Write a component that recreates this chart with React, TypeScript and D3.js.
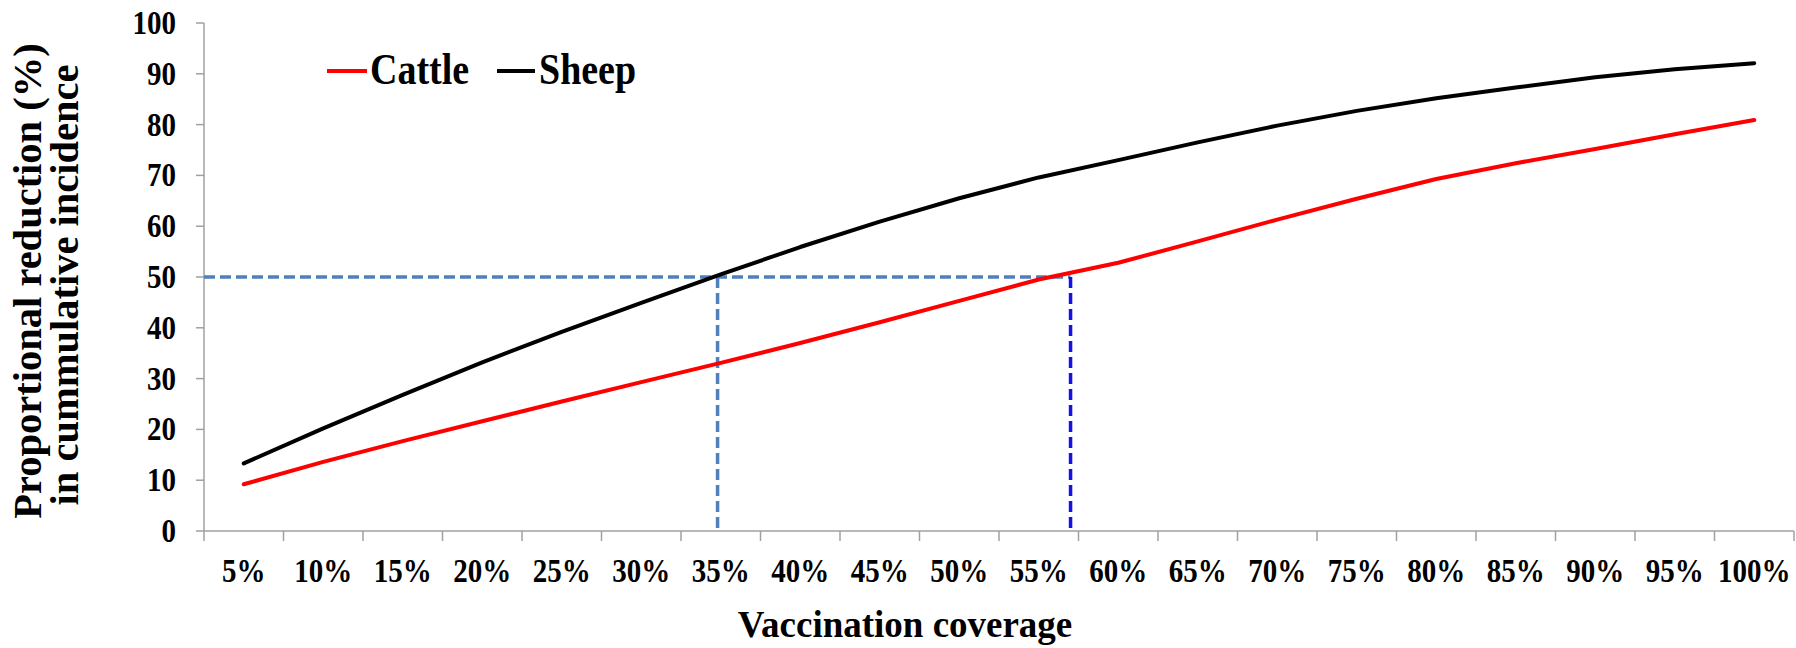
import React, { useEffect } from "react";
import * as d3 from "d3";

const coverage = [5, 10, 15, 20, 25, 30, 35, 40, 45, 50, 55, 60, 65, 70, 75, 80, 85, 90, 95, 100];
const coverageLabels = ["5%", "10%", "15%", "20%", "25%", "30%", "35%", "40%", "45%", "50%", "55%", "60%", "65%", "70%", "75%", "80%", "85%", "90%", "95%", "100%"];
const sheep = [13.3, 20.2, 26.8, 33.2, 39.2, 44.9, 50.5, 55.9, 60.9, 65.5, 69.6, 73.0, 76.5, 79.8, 82.7, 85.2, 87.3, 89.3, 90.9, 92.1];
const cattle = [9.2, 13.6, 17.7, 21.6, 25.5, 29.3, 33.1, 37.0, 41.1, 45.3, 49.5, 52.8, 57.0, 61.3, 65.4, 69.3, 72.4, 75.2, 78.1, 80.9];
const yTicks = [0, 10, 20, 30, 40, 50, 60, 70, 80, 90, 100];
const targetReduction = 50;
const sheepCoverageAtTarget = 34.8;
const cattleCoverageAtTarget = 57.0;

const W = 1796;
const H = 648;
const FONT = "'Liberation Serif', 'Times New Roman', serif";
const SY = 1.15;

function HText({ x, y, anchor, size, sy, children }: { x: number; y: number; anchor?: string; size: number; sy?: number; children: React.ReactNode }) {
  return (
    <g transform={`translate(${x},${y}) scale(1,${sy ?? SY})`}>
      <text x={0} y={0} textAnchor={anchor || "start"} fontSize={size} fontWeight="bold" fill="#000">
        {children}
      </text>
    </g>
  );
}

export default function App() {
  useEffect(() => {
    document.body.style.margin = "0";
  }, []);

  const band = d3.scaleBand<string>().domain(coverageLabels).range([204, 1794]).paddingInner(0).paddingOuter(0);
  const bw = band.bandwidth();
  const cx = (i: number) => (band(coverageLabels[i]) as number) + bw / 2;
  const xLin = d3.scaleLinear().domain([coverage[0], coverage[coverage.length - 1]]).range([cx(0), cx(coverage.length - 1)]);
  const y = d3.scaleLinear().domain([0, 100]).range([531, 23]);

  const line = d3
    .line<number>()
    .x((_, i) => xLin(coverage[i]))
    .y((d) => y(d));

  const x0 = band.range()[0];
  const x1 = band.range()[1];
  const yBase = y(0);
  const boundaries = coverageLabels.map((c) => band(c) as number).concat([x1]);

  const sx = xLin(sheepCoverageAtTarget);
  const cxT = xLin(cattleCoverageAtTarget);
  const yT = y(targetReduction);

  return (
    <svg width={W} height={H} style={{ display: "block", position: "absolute", left: 0, top: 0, background: "#fff" }} fontFamily={FONT}>
      <rect x={0} y={0} width={W} height={H} fill="#fff" />
      {/* axes */}
      <line x1={x0} x2={x0} y1={y(100)} y2={yBase} stroke="#a0a0a0" strokeWidth={1.5} />
      <line x1={x0} x2={x1} y1={yBase} y2={yBase} stroke="#a0a0a0" strokeWidth={1.5} />
      {yTicks.map((t) => (
        <g key={"y" + t}>
          <line x1={x0 - 8} x2={x0} y1={y(t)} y2={y(t)} stroke="#a0a0a0" strokeWidth={1.5} />
          <HText x={176} y={y(t) + 11} anchor="end" size={29}>
            {t}
          </HText>
        </g>
      ))}
      {boundaries.map((b, i) => (
        <line key={"xt" + i} x1={b} x2={b} y1={yBase} y2={yBase + 10} stroke="#a0a0a0" strokeWidth={1.5} />
      ))}
      {coverageLabels.map((c, i) => (
        <HText key={"xl" + c} x={cx(i)} y={582} anchor="middle" size={29}>
          {c}
        </HText>
      ))}

      {/* annotation dashed lines */}
      <line x1={x0} x2={cxT} y1={yT} y2={yT} stroke="#4f7fbd" strokeWidth={3.5} strokeDasharray="11 5" />
      <line x1={sx} x2={sx} y1={yT} y2={yBase} stroke="#4f7fbd" strokeWidth={3.5} strokeDasharray="11 5" />
      <line x1={cxT} x2={cxT} y1={yT} y2={yBase} stroke="#1212e6" strokeWidth={3.5} strokeDasharray="11 5" />

      {/* series */}
      <path d={line(sheep) || ""} fill="none" stroke="#000" strokeWidth={4} strokeLinejoin="round" strokeLinecap="round" />
      <path d={line(cattle) || ""} fill="none" stroke="#ff0000" strokeWidth={4} strokeLinejoin="round" strokeLinecap="round" />

      {/* legend */}
      <line x1={327} x2={367} y1={71} y2={71} stroke="#ff0000" strokeWidth={4} />
      <HText x={370} y={84} size={38}>Cattle</HText>
      <line x1={497} x2={535} y1={71} y2={71} stroke="#000" strokeWidth={4} />
      <HText x={539} y={84} size={38}>Sheep</HText>

      {/* axis titles */}
      <HText x={905} y={637} anchor="middle" size={37} sy={1.04}>
        Vaccination coverage
      </HText>
      <text transform="translate(41,281) rotate(-90)" textAnchor="middle" fontSize={40.5} fontWeight="bold" fill="#000">
        Proportional reduction (%)
      </text>
      <text transform="translate(78,285) rotate(-90)" textAnchor="middle" fontSize={40.5} fontWeight="bold" fill="#000">
        in cummulative incidence
      </text>
    </svg>
  );
}
